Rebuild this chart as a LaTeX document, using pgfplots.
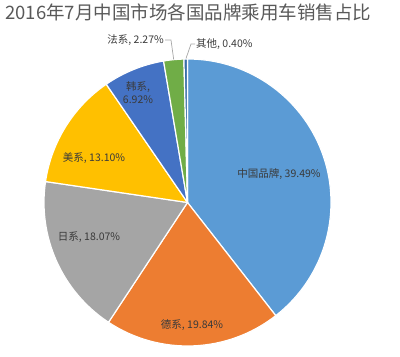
\documentclass[border=0pt]{standalone}
\usepackage{pgfplots}
\usepackage{pgfplotstable}
\pgfplotsset{compat=1.18}
\usepackage{fontspec}
\setmainfont{Noto Sans CJK SC}
\definecolor{sc0}{HTML}{5B9BD5}
\definecolor{sc1}{HTML}{ED7D31}
\definecolor{sc2}{HTML}{A5A5A5}
\definecolor{sc3}{HTML}{FFC000}
\definecolor{sc4}{HTML}{4472C4}
\definecolor{sc5}{HTML}{70AD47}
\definecolor{sc6}{HTML}{3A6FA8}
\definecolor{lbl}{HTML}{3A3A3A}
\definecolor{ttl}{HTML}{595959}
\definecolor{leader}{HTML}{A6A6A6}

\pgfplotstableread{
idx pct
0 39.49
1 19.84
2 18.07
3 13.10
4 6.92
5 2.27
6 0.40
}\piedata

\begin{document}
\begin{tikzpicture}
\xdef\startA{90}
\foreach \i in {0,...,6}{%
  \pgfplotstablegetelem{\i}{pct}\of\piedata
  \pgfmathsetmacro\sweep{\pgfplotsretval*3.6*100/100.09}%
  \expandafter\xdef\csname sa\i\endcsname{\startA}%
  \pgfmathsetmacro\endA{\startA-\sweep}%
  \expandafter\xdef\csname ea\i\endcsname{\endA}%
  \xdef\startA{\endA}%
}
\begin{axis}[
  x=1pt, y=1pt, xmin=0, xmax=400, ymin=0, ymax=354,
  hide axis, clip=false, scale only axis,
]
\path (axis cs:0,0) rectangle (axis cs:400,354);
\pgfplotsinvokeforeach{0,...,6}{
  \filldraw[fill=sc#1, draw=white, line width=1.2pt, line join=round]
    (axis cs:187.5,151.5) -- ++(\csname sa#1\endcsname:143.5pt)
    arc[start angle=\csname sa#1\endcsname, end angle=\csname ea#1\endcsname, radius=143.5pt] -- cycle;
}
% leader lines
\draw[leader, line width=0.7pt] (axis cs:165,314) -- (axis cs:171,314) -- (axis cs:173.7,294.5);
\draw[leader, line width=0.7pt] (axis cs:195,310) -- (axis cs:191,310) -- (axis cs:186,295.5);
% labels
\begin{scope}[every node/.style={text=lbl, font=\fontsize{10.5}{12.5}\selectfont, inner sep=0pt}]
\node at (axis cs:279,180) {中国品牌, 39.49\%};
\node at (axis cs:192,29) {德系, 19.84\%};
\node at (axis cs:89,117) {日系, 18.07\%};
\node at (axis cs:94,196) {美系, 13.10\%};
\node[align=center] at (axis cs:138,261.5) {韩系,\\[1pt]6.92\%};
\node[anchor=east] at (axis cs:164,314) {法系, 2.27\%};
\node[anchor=west] at (axis cs:196,310) {其他, 0.40\%};
\end{scope}
\node[anchor=west, text=ttl, font=\fontsize{18.5}{21}\selectfont, inner sep=0pt] at (axis cs:5,342) {2016年7月中国市场各国品牌乘用车销售占比};
\end{axis}
\end{tikzpicture}
\end{document}
